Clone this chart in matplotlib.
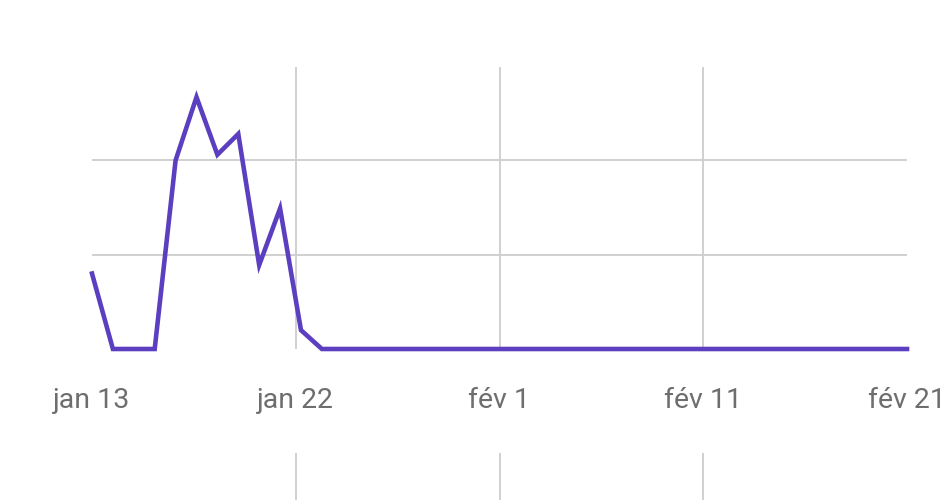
import matplotlib.pyplot as plt
import numpy as np

# daily values, jan 13 -> fév 21 (40 days)
days = list(range(40))
values = [0.8, 0, 0, 0, 2.0, 2.67, 2.06, 2.28, 0.89, 1.49, 0.2] + [0] * 29
tick_labels = ['jan 13', 'jan 22', 'fév 1', 'fév 11', 'fév 21']

purple = '#5b3fc0'
grid_col = '#d0d0d0'
label_col = '#6e6e6e'

plt.rcParams['font.family'] = ['Roboto', 'DejaVu Sans']

fig = plt.figure(figsize=(9.5, 5), dpi=100)

# main chart
ax = fig.add_axes([92 / 950, 151 / 500, 815 / 950, 283 / 500])
ax.plot(days, values, color=purple, lw=3.3, solid_joinstyle='miter', zorder=3, clip_on=False)
ax.set_xlim(days[0], days[-1])
ax.set_ylim(0, 3)

ticks = np.linspace(days[0], days[-1], len(tick_labels))
ax.set_xticks(ticks)
ax.set_xticklabels(tick_labels, fontsize=20.5, color=label_col)
ax.set_yticks([1, 2])
ax.set_yticklabels([])
ax.tick_params(length=0, pad=27)

# vertical grid only on the inner ticks
for t in ticks[1:-1]:
    ax.plot([t, t], [0, 2.98], color=grid_col, lw=1.4, zorder=1)
for y in [1, 2]:
    ax.axhline(y, color=grid_col, lw=1.4, zorder=1)

for s in ax.spines.values():
    s.set_visible(False)

# next chart, cut off at the bottom of the image
ax2 = fig.add_axes([92 / 950, -0.1, 815 / 950, 0.194])
ax2.set_xlim(days[0], days[-1])
for t in ticks[1:-1]:
    ax2.axvline(t, color=grid_col, lw=1.4)
ax2.set_xticks([])
ax2.set_yticks([])
for s in ax2.spines.values():
    s.set_visible(False)

plt.savefig('out.png', dpi=100)
